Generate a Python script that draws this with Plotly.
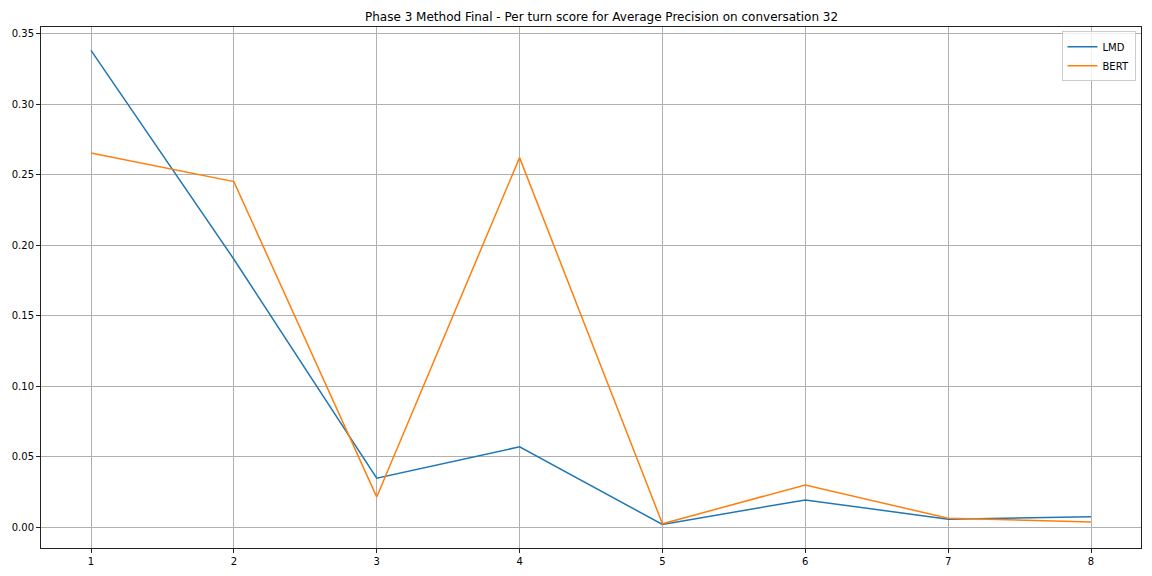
import plotly.graph_objects as go

turns = [1, 2, 3, 4, 5, 6, 7, 8]
lmd = [0.338, 0.190, 0.0348, 0.0570, 0.0020, 0.0194, 0.0057, 0.0074]
bert = [0.2653, 0.245, 0.0215, 0.262, 0.0025, 0.0300, 0.0064, 0.0038]
x_ticks = [1, 2, 3, 4, 5, 6, 7, 8]
y_ticks = [0.0, 0.05, 0.10, 0.15, 0.20, 0.25, 0.30, 0.35]
y_tick_text = ["0.00", "0.05", "0.10", "0.15", "0.20", "0.25", "0.30", "0.35"]

fig = go.Figure()
fig.add_trace(go.Scatter(x=turns, y=lmd, mode="lines", name="LMD",
                         line=dict(color="#1f77b4", width=1.5)))
fig.add_trace(go.Scatter(x=turns, y=bert, mode="lines", name="BERT",
                         line=dict(color="#ff7f0e", width=1.5)))

axis_common = dict(showline=True, linecolor="#222", linewidth=1, mirror=True,
                   showgrid=True, gridcolor="#b0b0b0", gridwidth=1,
                   ticks="outside", ticklen=4, tickcolor="#222", automargin=False,
                   zeroline=False, tickfont=dict(size=10, color="#000"))

# page body has an 8px default margin, so figure is 1144x568 placed at (8, 8)
W, H = 1144, 568
fig.update_layout(
    width=W, height=H,
    paper_bgcolor="white", plot_bgcolor="white",
    font=dict(family="DejaVu Sans", color="#000"),
    margin=dict(l=33, r=11, t=19, b=28),
    title=dict(text="Phase 3 Method Final - Per turn score for Average Precision on conversation 32",
               x=(591 - 8) / W, xref="paper", xanchor="center", y=1 - 9 / H, yanchor="middle",
               font=dict(size=12, color="#000")),
    xaxis=dict(range=[0.65, 8.35], tickvals=x_ticks, **axis_common),
    yaxis=dict(range=[-0.0147, 0.3546], tickvals=y_ticks, ticktext=y_tick_text, **axis_common),
    legend=dict(x=0.995, y=0.992, xanchor="right", yanchor="top",
                bgcolor="rgba(255,255,255,0.8)", bordercolor="#cccccc", borderwidth=1,
                font=dict(size=10, color="#000"), tracegroupgap=0, itemwidth=30),
    showlegend=True,
)

fig.write_html("out.html")
